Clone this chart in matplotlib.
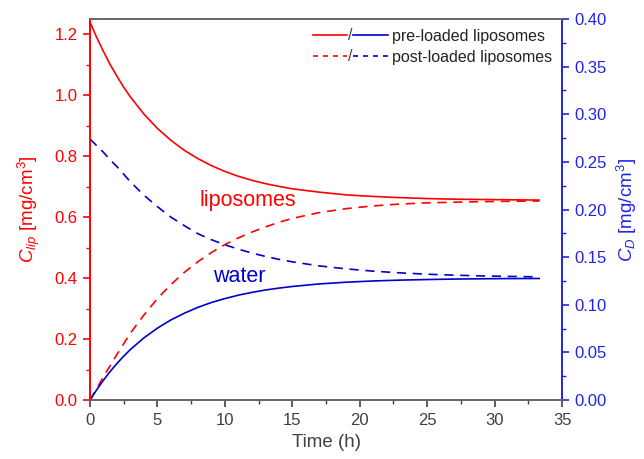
import numpy as np
import matplotlib
matplotlib.use('Agg')
import matplotlib.pyplot as plt
from matplotlib.lines import Line2D
from matplotlib.text import Text
from matplotlib.legend_handler import HandlerBase
from matplotlib.ticker import MultipleLocator, FormatStrFormatter

plt.rcParams['font.family'] = ['Liberation Sans', 'DejaVu Sans']
plt.rcParams['mathtext.fontset'] = 'custom'
plt.rcParams['mathtext.rm'] = 'Liberation Sans'
plt.rcParams['mathtext.it'] = 'Liberation Sans:italic'

# time in hours
t = [0, 0.5, 1, 1.5, 2, 2.5, 3, 4, 5, 6, 7, 8, 9, 10, 11, 12, 13, 14, 15,
     17, 19, 21, 23, 25, 27, 29, 31, 33.3]

# liposome concentration (left axis)
lip_pre = [1.240, 1.189, 1.143, 1.100, 1.062, 1.026, 0.994, 0.938, 0.891, 0.852,
           0.819, 0.792, 0.769, 0.750, 0.734, 0.721, 0.710, 0.701, 0.693,
           0.682, 0.673, 0.668, 0.664, 0.661, 0.659, 0.658, 0.657, 0.656]
lip_post = [0.0, 0.038, 0.077, 0.113, 0.150, 0.185, 0.220, 0.279, 0.333, 0.379,
            0.419, 0.454, 0.484, 0.510, 0.532, 0.551, 0.568, 0.583, 0.596,
            0.615, 0.628, 0.637, 0.643, 0.647, 0.649, 0.651, 0.652, 0.653]

# drug in water (right axis)
water_pre = [0.0, 0.0109, 0.0209, 0.0301, 0.0384, 0.0461, 0.0531, 0.0653, 0.0755,
             0.0841, 0.0912, 0.0973, 0.1024, 0.1065, 0.1101, 0.1130, 0.1155,
             0.1175, 0.1192, 0.1219, 0.1237, 0.1250, 0.1259, 0.1265, 0.1270,
             0.1273, 0.1275, 0.1276]
water_post = [0.274, 0.267, 0.260, 0.252, 0.245, 0.237, 0.229, 0.215, 0.203, 0.192,
              0.183, 0.1746, 0.1683, 0.1630, 0.1584, 0.1543, 0.1508, 0.1477,
              0.1451, 0.1408, 0.1377, 0.1353, 0.1335, 0.1321, 0.1311, 0.1303,
              0.1298, 0.1293]

RED = '#ff0000'
BLUE = '#0000cc'
BLUE_AX = '#2222ee'
GRAY = '#404040'
DASH = (0, (5.5, 4))


class SlashHandler(HandlerBase):
    def __init__(self, ls):
        super().__init__()
        self.ls = ls

    def create_artists(self, legend, orig_handle, xdescent, ydescent,
                       width, height, fontsize, trans):
        y = height / 2 - ydescent
        w = (width - 4) / 2
        l1 = Line2D([-xdescent, -xdescent + w], [y, y], color=RED, lw=1.2, ls=self.ls)
        l2 = Line2D([-xdescent + w + 4, -xdescent + width], [y, y], color=BLUE, lw=1.2, ls=self.ls)
        tx = Text(-xdescent + w + 2, y, '/', ha='center', va='center',
                  fontsize=fontsize, color=GRAY)
        for a in (l1, l2, tx):
            a.set_transform(trans)
        return [l1, l2, tx]


fig = plt.figure(figsize=(6.44, 4.59), dpi=100)
ax = fig.add_axes([0.1398, 0.1285, 0.733, 0.830])
ax2 = ax.twinx()

ax.plot(t, lip_pre, color=RED, lw=1.2)
ax.plot(t, lip_post, color=RED, lw=1.2, ls=DASH)
ax2.plot(t, water_pre, color=BLUE, lw=1.2)
ax2.plot(t, water_post, color=BLUE, lw=1.2, ls=DASH)

ax.set_xlim(0, 35)
ax.set_ylim(0, 1.25)
ax2.set_ylim(0, 0.40)

ax.xaxis.set_major_locator(MultipleLocator(5))
ax.xaxis.set_minor_locator(MultipleLocator(2.5))
ax.yaxis.set_major_locator(MultipleLocator(0.2))
ax.yaxis.set_minor_locator(MultipleLocator(0.1))
ax2.yaxis.set_major_locator(MultipleLocator(0.05))
ax2.yaxis.set_minor_locator(MultipleLocator(0.025))
ax.yaxis.set_major_formatter(FormatStrFormatter('%.1f'))
ax2.yaxis.set_major_formatter(FormatStrFormatter('%.2f'))

ax.tick_params(axis='x', which='both', direction='out', colors=GRAY, labelsize=12, pad=4)
ax.tick_params(axis='y', which='both', direction='out', colors=RED, labelsize=12, pad=4)
ax2.tick_params(axis='y', which='both', direction='out', colors=BLUE_AX, labelsize=12, pad=4)
for a in (ax, ax2):
    a.tick_params(which='major', length=5, width=1.2)
    a.tick_params(which='minor', length=3, width=1.0)

for a in (ax, ax2):
    a.spines['top'].set_color('#666666')
    a.spines['bottom'].set_color('#666666')
    a.spines['left'].set_color(RED)
    a.spines['right'].set_color(BLUE_AX)
    for s in a.spines.values():
        s.set_linewidth(1.2)

ax.set_xlabel('Time (h)', fontsize=13.5, color=GRAY, labelpad=5)
ax.set_ylabel(r'$C_{lip}$ [mg/cm$^3$]', fontsize=13.5, color=RED, labelpad=9)
ax2.set_ylabel(r'$C_{D}$ [mg/cm$^3$]', fontsize=13.5, color=BLUE_AX, rotation=90, labelpad=6)

ax.text(11.7, 0.653, 'liposomes', color=RED, fontsize=15.5, ha='center', va='center')
ax.text(11.1, 0.404, 'water', color=BLUE, fontsize=15.5, ha='center', va='center')

h1 = Line2D([], [])
h2 = Line2D([], [])
leg = ax2.legend([h1, h2], ['pre-loaded liposomes', 'post-loaded liposomes'],
                 handler_map={h1: SlashHandler('-'), h2: SlashHandler((0, (3, 3)))},
                 loc='upper right', frameon=False, fontsize=11.5, handlelength=4.7,
                 handletextpad=0.3, labelspacing=0.4, borderaxespad=0.2)
for txt in leg.get_texts():
    txt.set_color('#222222')

fig.savefig('out.png', dpi=100)
